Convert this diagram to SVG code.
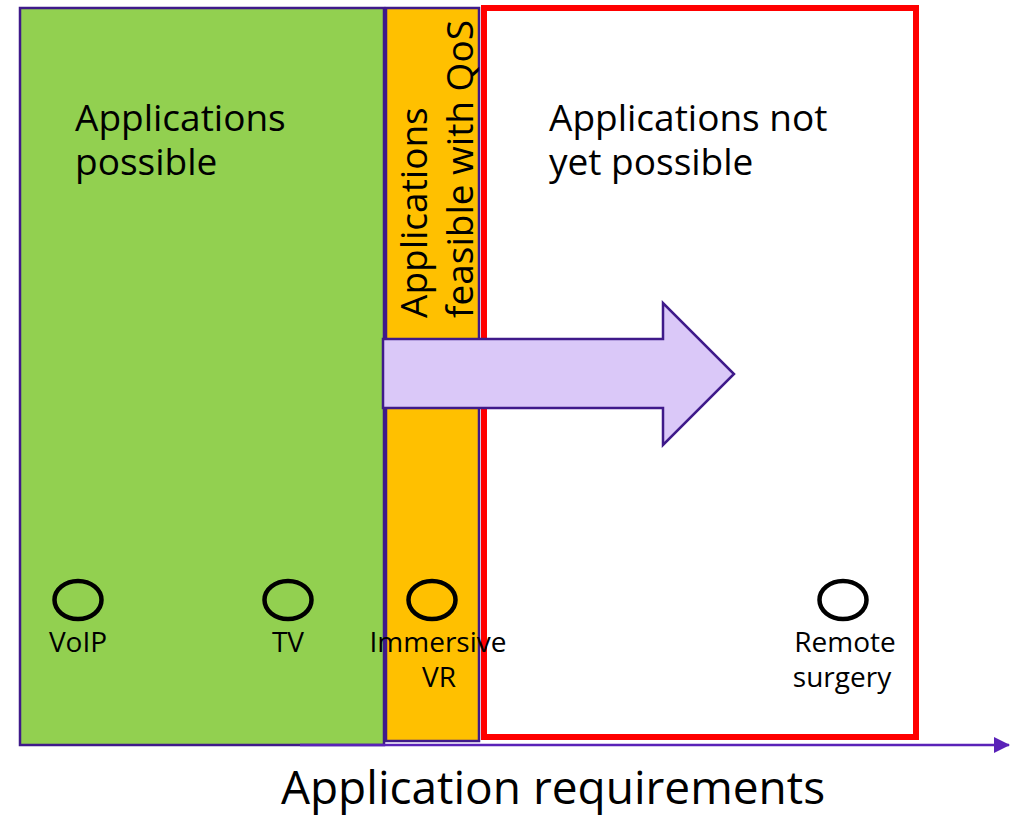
<svg xmlns="http://www.w3.org/2000/svg" width="1015" height="816" viewBox="0 0 1015 816">
<style>
text{font-family:"Open Sans","Liberation Sans",sans-serif;fill:#000}
.big{font-size:37px}
.lbl{font-size:28px;text-anchor:middle}
.dot{fill:none;stroke:#000;stroke-width:4.5}
</style>
<defs>
<marker id="ah" markerWidth="16" markerHeight="16" refX="15" refY="8" orient="auto" markerUnits="userSpaceOnUse">
<path d="M0,0 L16,8 L0,16 Z" fill="#5A22B8"/>
</marker>
</defs>
<g id="possible">
<rect x="20" y="8" width="364" height="737" fill="#92D050" stroke="#3F1A8A" stroke-width="2.5"/>
<text class="big" x="75" y="131">Applications</text>
<text class="big" x="75" y="175">possible</text>
</g>
<g id="qos">
<rect x="386" y="8" width="93" height="733" fill="#FFC000" stroke="#3F1A8A" stroke-width="2.5"/>
<text class="big" transform="translate(427,318) rotate(-90)">Applications</text>
<text class="big" transform="translate(473,318) rotate(-90)">feasible with QoS</text>
</g>
<g id="notyet">
<rect x="484" y="8" width="432" height="729" fill="none" stroke="#FF0000" stroke-width="6"/>
<text class="big" x="549" y="131">Applications not</text>
<text class="big" x="549" y="175">yet possible</text>
</g>
<g id="shift">
<path d="M383,339 L663,339 L663,303 L734,374 L663,445 L663,408 L383,408 Z" fill="#DAC8F8" stroke="#3F1A8A" stroke-width="2.5"/>
</g>
<g id="connectors">
<line x1="300" y1="745" x2="1009" y2="745" stroke="#5A22B8" stroke-width="2.5" marker-end="url(#ah)"/>
</g>
<g id="voip">
<ellipse class="dot" cx="78" cy="600" rx="23.5" ry="19"/>
<text class="lbl" x="78" y="652">VoIP</text>
</g>
<g id="tv">
<ellipse class="dot" cx="288" cy="600" rx="23.5" ry="19"/>
<text class="lbl" x="288" y="652">TV</text>
</g>
<g id="vr">
<ellipse class="dot" cx="432" cy="600" rx="23.5" ry="19"/>
<text class="lbl" x="438" y="652">Immersive</text>
<text class="lbl" x="439" y="687">VR</text>
</g>
<g id="surgery">
<ellipse class="dot" cx="843" cy="600" rx="23.5" ry="19"/>
<text class="lbl" x="845" y="652">Remote</text>
<text class="lbl" x="842" y="687">surgery</text>
</g>
<g id="axislabel">
<text x="553" y="804" style="font-size:46px;text-anchor:middle">Application requirements</text>
</g>
</svg>
